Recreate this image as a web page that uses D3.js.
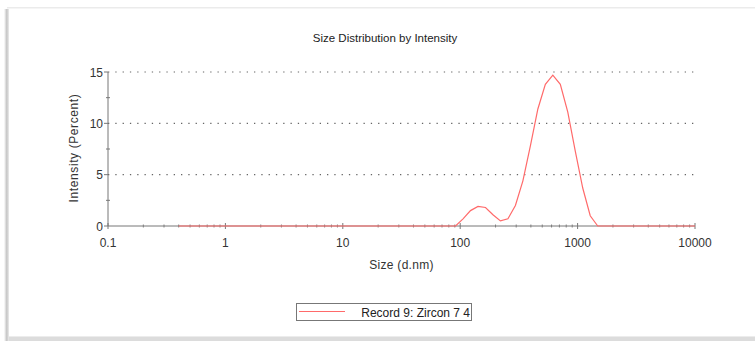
<!DOCTYPE html>
<html>
<head>
<meta charset="utf-8">
<script src="https://cdn.jsdelivr.net/npm/d3@7"></script>
<style>
  html, body { margin: 0; padding: 0; background: #fff; }
  svg { display: block; font-family: "Liberation Sans", Arial, sans-serif; }
</style>
</head>
<body>
<svg id="chart" width="755" height="341"></svg>
<script>
// Size bins (d.nm) and intensity (%) of the recorded distribution
const sizes = [0.4, 0.4632, 0.5365, 0.6213, 0.7195, 0.8332, 0.9649, 1.117, 1.294, 1.499,
  1.736, 2.010, 2.328, 2.696, 3.122, 3.615, 4.187, 4.849, 5.615, 6.503,
  7.531, 8.721, 10.10, 11.70, 13.54, 15.69, 18.17, 21.04, 24.36, 28.21,
  32.67, 37.84, 43.82, 50.75, 58.77, 68.06, 78.82, 91.28, 105.7, 122.4,
  141.8, 164.2, 190.1, 220.2, 255.0, 295.3, 342.0, 396.1, 458.7, 531.2,
  615.1, 712.4, 825.0, 955.4, 1106, 1281, 1484, 1718, 1990, 2305,
  2669, 3091, 3580, 4145, 4801, 5560, 6439, 7456, 8635, 10000];
const intensity = [0, 0, 0, 0, 0, 0, 0, 0, 0, 0,
  0, 0, 0, 0, 0, 0, 0, 0, 0, 0,
  0, 0, 0, 0, 0, 0, 0, 0, 0, 0,
  0, 0, 0, 0, 0, 0, 0, 0, 0.7, 1.5,
  1.9, 1.8, 1.1, 0.5, 0.7, 2.0, 4.4, 7.8, 11.4, 13.8,
  14.7, 13.8, 11.1, 7.3, 3.7, 1.0, 0, 0, 0, 0,
  0, 0, 0, 0, 0, 0, 0, 0, 0, 0];
const xTickValues = [0.1, 1, 10, 100, 1000, 10000];
const xTickLabels = ["0.1", "1", "10", "100", "1000", "10000"];
const yTickValues = [0, 5, 10, 15];
const yMinorValues = [2.5, 7.5, 12.5];
const seriesName = "Record 9: Zircon 7 4";

const svg = d3.select("#chart");
const plot = { left: 108, right: 695, top: 72, bottom: 226 };

const x = d3.scaleLog().domain([0.1, 10000]).range([plot.left, plot.right]);
const y = d3.scaleLinear().domain([0, 15]).range([plot.bottom, plot.top]);

// Panel frame: soft shadow on the left, hairlines top and bottom
const defs = svg.append("defs");
const grad = defs.append("linearGradient").attr("id", "shadowL").attr("x1", "0").attr("x2", "1");
grad.append("stop").attr("offset", "0").attr("stop-color", "#fff");
grad.append("stop").attr("offset", "0.55").attr("stop-color", "#c4c4c4");
grad.append("stop").attr("offset", "1").attr("stop-color", "#ececec");
svg.append("rect").attr("x", 4).attr("y", 9).attr("width", 5).attr("height", 332).attr("fill", "url(#shadowL)");
svg.append("rect").attr("x", 7).attr("y", 7).attr("width", 748).attr("height", 1.5).attr("fill", "#ebebeb");
svg.append("rect").attr("x", 9).attr("y", 337).attr("width", 746).attr("height", 4).attr("fill", "#dcdcdc");
svg.append("rect").attr("x", 9).attr("y", 336).attr("width", 746).attr("height", 1).attr("fill", "#ececec");

const textColor = "#333";

// Title
svg.append("text").attr("x", 385).attr("y", 42).attr("text-anchor", "middle")
  .attr("font-size", 11.5).attr("fill", "#222").text("Size Distribution by Intensity");

// Dotted horizontal grid
svg.append("g").selectAll("line").data(yTickValues.filter(v => v > 0)).join("line")
  .attr("x1", plot.left).attr("x2", plot.right)
  .attr("y1", d => y(d)).attr("y2", d => y(d))
  .attr("stroke", "#666").attr("stroke-width", 1.2).attr("stroke-dasharray", "1.3,6");

const axisColor = "#777";

// Y axis
const yAxis = svg.append("g");
yAxis.append("line").attr("x1", plot.left).attr("x2", plot.left)
  .attr("y1", plot.top).attr("y2", plot.bottom).attr("stroke", axisColor);
yAxis.selectAll("line.maj").data(yTickValues).join("line").attr("class", "maj")
  .attr("x1", plot.left - 4).attr("x2", plot.left)
  .attr("y1", d => y(d)).attr("y2", d => y(d)).attr("stroke", axisColor);
yAxis.selectAll("line.min").data(yMinorValues).join("line").attr("class", "min")
  .attr("x1", plot.left - 2).attr("x2", plot.left + 2)
  .attr("y1", d => y(d)).attr("y2", d => y(d)).attr("stroke", axisColor);
yAxis.selectAll("text").data(yTickValues).join("text")
  .attr("x", plot.left - 5).attr("y", d => y(d) + 4.5)
  .attr("text-anchor", "end").attr("font-size", 12).attr("fill", textColor)
  .text(d => d);

// X axis with log minor ticks
const xAxis = svg.append("g");
xAxis.append("line").attr("x1", plot.left).attr("x2", plot.right)
  .attr("y1", plot.bottom).attr("y2", plot.bottom).attr("stroke", axisColor);
const minor = x.ticks().filter(v => !xTickValues.includes(v));
xAxis.selectAll("line.min").data(minor).join("line").attr("class", "min")
  .attr("x1", d => x(d)).attr("x2", d => x(d))
  .attr("y1", plot.bottom - 1.5).attr("y2", plot.bottom + 1.5)
  .attr("stroke", axisColor).attr("stroke-width", 0.9);
xAxis.selectAll("line.maj").data(xTickValues).join("line").attr("class", "maj")
  .attr("x1", d => x(d)).attr("x2", d => x(d))
  .attr("y1", plot.bottom - 3).attr("y2", plot.bottom + 3).attr("stroke", axisColor);
xAxis.selectAll("text").data(xTickValues).join("text")
  .attr("x", d => x(d)).attr("y", plot.bottom + 21)
  .attr("text-anchor", "middle").attr("font-size", 12).attr("fill", textColor)
  .text((d, i) => xTickLabels[i]);

// Axis titles
svg.append("text").attr("x", (plot.left + plot.right) / 2).attr("y", 269)
  .attr("text-anchor", "middle").attr("font-size", 12).attr("letter-spacing", 0.3)
  .attr("fill", textColor).text("Size (d.nm)");
svg.append("text").attr("transform", "translate(78,148) rotate(-90)")
  .attr("text-anchor", "middle").attr("font-size", 12).attr("letter-spacing", 0.6)
  .attr("fill", textColor).text("Intensity (Percent)");

// Distribution curve
const pts = sizes.map((s, i) => [s, intensity[i]]);
svg.append("path").datum(pts)
  .attr("fill", "none").attr("stroke", "#ff6a6a").attr("stroke-width", 1.2)
  .attr("d", d3.line().x(d => x(d[0])).y(d => y(d[1])));

// Legend
const lg = svg.append("g");
lg.append("rect").attr("x", 296.5).attr("y", 303.5).attr("width", 175).attr("height", 17)
  .attr("fill", "#fff").attr("stroke", "#777");
lg.append("line").attr("x1", 299).attr("x2", 345).attr("y1", 311.5).attr("y2", 311.5)
  .attr("stroke", "#ff6a6a").attr("stroke-width", 1.2);
lg.append("text").attr("x", 470).attr("y", 316.5).attr("text-anchor", "end")
  .attr("font-size", 12).attr("fill", "#222").text(seriesName);
</script>
</body>
</html>
